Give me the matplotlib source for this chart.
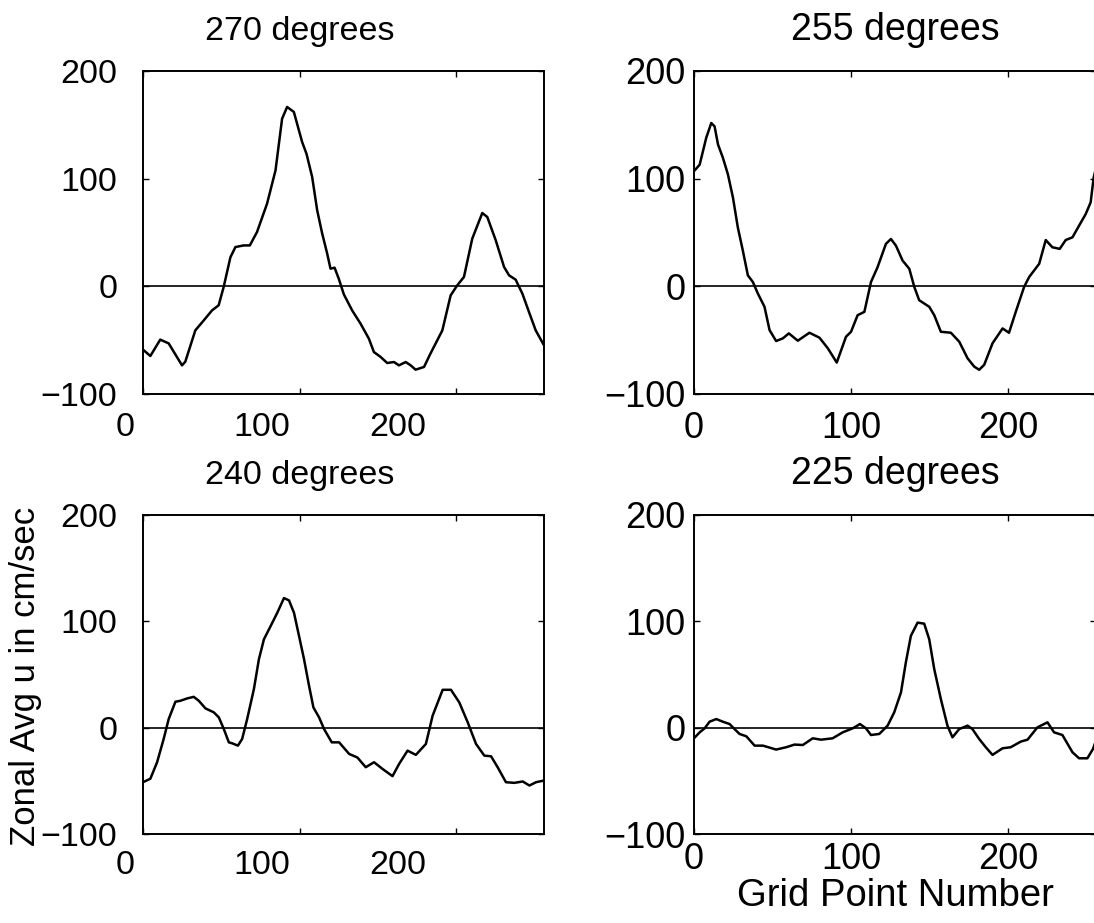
import matplotlib
matplotlib.use("Agg")
import matplotlib.pyplot as plt

plt.rcParams['font.family'] = ['Liberation Sans', 'DejaVu Sans']

# ---------------- data ----------------
titles = ["270 degrees", "255 degrees", "240 degrees", "225 degrees"]
ylabel_text = "Zonal Avg u in cm/sec"
xlabel_text = "Grid Point Number"
x_ticks = [0, 100, 200]
y_ticks = [-100, 0, 100, 200]
x_limits = (0, 256)
y_limits = (-100, 200)

x_270 = [0, 4.7, 11, 16.4, 24.9, 27, 33.4, 38.8, 44.1, 48.3, 51.5, 55.8, 59, 64.3, 68.2,
         72.8, 79.2, 84.6, 88.8, 92, 96.3, 101.6, 104.4, 108, 111.2, 114.4, 117.6, 119.7,
         122.3, 125, 128.2, 133.5, 138.9, 144.2, 147.4, 151.7, 155.9, 160.2, 163.4, 167.7,
         170.9, 174, 179.4, 183.5, 191.1, 196.4, 200.6, 204.9, 210.2, 216.6, 219.8, 225.2,
         230.5, 233.7, 237.9, 242.2, 246.4, 250.7, 256]
u_270 = [-58.8, -64.7, -49.5, -53, -73.4, -70, -40.9, -31.6, -22.3, -17.6, -0.6, 27, 36.5,
         38, 38, 50.5, 76.8, 107.7, 155.7, 166.6, 162, 134, 123, 101.5, 70.6, 49, 30.3, 16.4,
         17.3, 7, -7.4, -22.3, -34.7, -48.6, -61, -65.6, -71.2, -70.3, -73.4, -70.3, -73.4,
         -77.4, -74.9, -62.5, -40.9, -8.4, 0.9, 8.7, 44.3, 68.1, 64.4, 42.7, 18, 10.2, 6.2,
         -6.8, -23.8, -40.9, -54.8]

x_255 = [0, 3.6, 7.8, 11, 13.1, 15.3, 18.4, 21.6, 24.8, 27.9, 31.1, 34.3, 37.5, 40.7, 44.9,
         48.1, 52.3, 56.6, 60.4, 66.1, 73.5, 79.9, 85.2, 90.9, 96.8, 100, 104.2, 108.5,
         112.7, 116.9, 122.2, 125.4, 128.6, 132.8, 137.1, 140.3, 143.4, 149.8, 153, 157.2,
         163.6, 168.9, 174.2, 178.4, 181.6, 184.8, 190.1, 196.5, 200.6, 204.9, 210.2, 213.4,
         219.8, 224, 228.2, 232.9, 236.7, 241, 245.2, 249.4, 252.6, 254.5, 256]
u_255 = [107, 113, 138, 151.7, 148.6, 131.7, 119.4, 104, 82.5, 54.8, 33.2, 10.2, 4, -6.8,
         -19, -40.6, -50.8, -48.3, -43.7, -50.5, -43.1, -47.7, -57.5, -70.8, -46.8, -42.2,
         -26.8, -23.7, 4, 17.8, 39.4, 44, 37.8, 24, 16.3, -0.6, -12.9, -19, -26.8, -42.2,
         -43.1, -51.4, -66.8, -74.5, -77.5, -72.9, -52.9, -39.1, -43.1, -23.7, -0.6, 8.6,
         20.9, 43, 36.3, 34.8, 43, 45.5, 56.3, 67, 78, 101, 110]

x_240 = [0, 4.7, 9, 13.2, 16.4, 20.7, 23.9, 28.2, 32.4, 35.6, 39.9, 45.2, 48.4, 51.6, 54.8,
         56.9, 60.6, 63.3, 66.5, 70.8, 74, 77.2, 81.5, 85.7, 90, 93.2, 96.4, 99.6, 102.8,
         106, 108.8, 112.4, 115.6, 120.5, 125.2, 131.6, 136.9, 142.2, 147.5, 152.9, 159.3,
         163.5, 168.9, 174.2, 180.6, 184.9, 191.3, 196.6, 201.9, 207.3, 212.6, 217.9, 222.2,
         226.4, 231.7, 237.1, 242.4, 246.7, 250.9, 256]
u_240 = [-51.3, -48, -32.5, -10.6, 8.1, 24.4, 25.3, 27.5, 29, 25.3, 18.1, 14.4, 9.7, -1.3,
         -13.8, -14.7, -16.9, -10.6, 8.1, 36.3, 64.4, 83.1, 95.6, 108, 121.9, 119.7, 108,
         86.3, 64.4, 39.4, 19, 9.7, -1.3, -13.8, -13.8, -24.7, -28.1, -37.2, -32.5, -38.8,
         -45.6, -34.1, -21.6, -25.6, -15.3, 11.3, 35.6, 35.6, 23.8, 5, -15.3, -26.3, -26.9,
         -37.2, -51.3, -51.9, -50.6, -54.4, -51.3, -49.7]

x_225 = [0, 3.6, 6.8, 9.9, 14.2, 18.4, 22.7, 25.8, 29, 33.3, 38.6, 43.9, 52.3, 58.7, 64,
         69.3, 75.6, 80.9, 88.3, 94.7, 101.1, 105.7, 109.5, 112.7, 118, 123.3, 127.5, 131.8,
         134.9, 138.1, 142.4, 146.6, 149.8, 153, 157.2, 161.4, 164.6, 168.9, 174.2, 177.3,
         181.6, 185.8, 190.1, 196.5, 201.7, 208.1, 212.4, 218.7, 225.1, 229.3, 234.6, 241,
         245.2, 250.5, 254.1, 256]
u_225 = [-10, -4.4, -0.6, 5.6, 8.1, 5.6, 3.4, -1.3, -5.9, -8.1, -16.9, -16.9, -20.6, -18.4,
         -15.9, -16.3, -10, -11.3, -10, -4.4, -0.6, 3.4, -0.6, -6.9, -5.9, 1.9, 14.4, 33.1,
         61.3, 86.3, 98.8, 97.8, 83.1, 55, 26.9, 1.9, -9.1, -1.3, 1.9, -1.3, -10.6, -18.4,
         -25.6, -19.4, -18.4, -13.1, -11.3, 0.3, 5, -4.4, -6.9, -23.1, -28.8, -28.8, -20, -12]

series_x = [x_270, x_255, x_240, x_225]
series_u = [u_270, u_255, u_240, u_225]

# ---------------- layout (pixels of a 1094x923 canvas) ----------------
W, H = 1094, 923
fig = plt.figure(figsize=(W / 100, H / 100), dpi=100, facecolor='white')


def frac(left, top, width, height):
    return [left / W, 1 - (top + height) / H, width / W, height / H]


# graphic frames: (left, top, width, height)
graphic_frames = [(143, 71, 401, 323), (694, 71, 402, 323),
                  (143, 515, 401, 319), (694, 515, 402, 319)]
# the left column's text is laid out slightly compressed in the reference
text_frames = [(125.5, 71, 348, 323), None, (125.5, 515, 348, 319), None]
tick_sizes = [24.5, 26, 24.5, 26]
title_sizes = [24.5, 27, 24.5, 27]
x_pads = [13, 12, 11.5, 6]

for i in range(4):
    ax = fig.add_axes(frac(*graphic_frames[i]))
    ax.plot(series_x[i], series_u[i], color='black', lw=1.8,
            solid_joinstyle='round', solid_capstyle='round')
    ax.axhline(0, color='black', lw=1.2)
    ax.set_xlim(*x_limits)
    ax.set_ylim(*y_limits)
    ax.set_xticks(x_ticks)
    ax.set_yticks(y_ticks)
    ax.tick_params(direction='in', length=4, width=1.0, top=True, right=True,
                   labelsize=tick_sizes[i], colors='black')
    ax.tick_params(axis='x', pad=x_pads[i])
    ax.tick_params(axis='y', pad=6)
    for s in ax.spines.values():
        s.set_linewidth(1.4)
    if text_frames[i] is None:
        ax.set_title(titles[i], fontsize=title_sizes[i], pad=22)
    else:
        ax.tick_params(labelbottom=False, labelleft=False)
        tax = fig.add_axes(frac(*text_frames[i]))
        tax.patch.set_visible(False)
        for s in tax.spines.values():
            s.set_visible(False)
        tax.set_xlim(*x_limits)
        tax.set_ylim(*y_limits)
        tax.set_xticks(x_ticks)
        tax.set_yticks(y_ticks)
        tax.tick_params(length=0, labelsize=tick_sizes[i])
        tax.tick_params(axis='x', pad=x_pads[i])
        tax.tick_params(axis='y', pad=6)
        tax.set_title(titles[i], fontsize=title_sizes[i], pad=22)
    if i == 3:
        ax.set_xlabel(xlabel_text, fontsize=27.5, labelpad=0.5)

fig.text(26 / W, 1 - 676 / H, ylabel_text, rotation=90, ha='center', va='center',
         fontsize=25)

fig.savefig("out.png", dpi=100, facecolor='white')
